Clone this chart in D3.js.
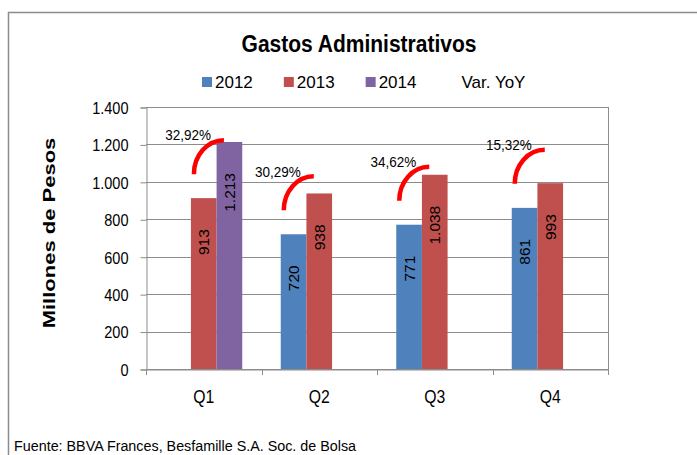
<!DOCTYPE html>
<html>
<head>
<meta charset="utf-8">
<script src="https://cdn.jsdelivr.net/npm/d3@7"></script>
<style>
  body { margin: 0; background: #fff; }
  text { font-family: "Liberation Sans", Arial, sans-serif; fill: #000; }
</style>
</head>
<body>
<svg width="697" height="455"></svg>
<script>
// data
const quarters = ['Q1', 'Q2', 'Q3', 'Q4'];
const years = ['2012', '2013', '2014'];
const v2012 = [null, 720, 771, 861];
const v2013 = [913, 938, 1038, 993];
const v2014 = [1213, null, null, null];
const yoyLabels = ['32,92%', '30,29%', '34,62%', '15,32%'];
const yTicks = [0, 200, 400, 600, 800, 1000, 1200, 1400];
const legendLabels = ['2012', '2013', '2014', 'Var. YoY'];
const colors = ['#4F81BD', '#C0504D', '#8064A2'];

const rows = quarters.map((q, i) => ({q, vals: [v2012[i], v2013[i], v2014[i]]}));
const fmt = v => d3.format(',')(v).replace(/,/g, '.');

const svg = d3.select('svg');
const plotL = 146, plotR = 608, plotT = 107, plotB = 369;

// outer chart frame (runs off the picture on the right and bottom)
svg.append('rect')
    .attr('x', 8.5).attr('y', 12.5)
    .attr('width', 720).attr('height', 470)
    .attr('fill', 'none').attr('stroke', '#8c8c8c').attr('stroke-width', 1.5);

const x = d3.scaleBand().domain(quarters).range([plotL, plotR]);
const barW = x.bandwidth() / 4.5; // excel gap width 150%
const x1 = d3.scaleBand().domain(years).range([barW * 0.75, barW * 3.75]);
const y = d3.scaleLinear().domain([0, 1400]).range([plotB, plotT]);

// gridlines
svg.append('g')
    .selectAll('line')
    .data(yTicks)
    .enter()
    .append('line')
    .attr('x1', plotL).attr('x2', plotR)
    .attr('y1', d => Math.round(y(d)) + 0.5).attr('y2', d => Math.round(y(d)) + 0.5)
    .attr('stroke', '#8c8c8c');

// plot right edge
svg.append('line')
    .attr('x1', plotR + 0.5).attr('x2', plotR + 0.5)
    .attr('y1', plotT).attr('y2', plotB + 6)
    .attr('stroke', '#8c8c8c');

// y axis
const yAxis = svg.append('g')
    .attr('transform', `translate(${plotL + 0.5},0.5)`)
    .call(d3.axisLeft(y).tickValues(yTicks).tickFormat(fmt).tickSizeOuter(0).tickSize(6).tickPadding(0));
yAxis.select('.domain').attr('stroke', '#8c8c8c');
yAxis.selectAll('.tick line').attr('stroke', '#8c8c8c');
yAxis.selectAll('.tick text')
    .attr('font-size', 16.5)
    .attr('font-family', '"Liberation Sans", Arial, sans-serif')
    .attr('fill', '#000')
    .attr('transform', 'scale(0.88,1)')
    .attr('x', -18 / 0.88)
    .attr('dy', '0.35em');

// x axis
const xAxis = svg.append('g')
    .attr('transform', `translate(0,${plotB + 0.5})`)
    .call(d3.axisBottom(x).tickSize(0).tickPadding(0).tickSizeOuter(0));
xAxis.select('.domain').attr('stroke', '#8c8c8c');
xAxis.selectAll('.tick text')
    .attr('font-size', 17.5)
    .attr('font-family', '"Liberation Sans", Arial, sans-serif')
    .attr('fill', '#000')
    .attr('transform', 'scale(0.9,1)')
    .attr('y', 21);

// category separators
svg.append('g')
    .selectAll('line')
    .data(d3.range(quarters.length + 1))
    .enter()
    .append('line')
    .attr('x1', i => Math.round(plotL + i * x.step()) + 0.5)
    .attr('x2', i => Math.round(plotL + i * x.step()) + 0.5)
    .attr('y1', plotB).attr('y2', plotB + 6)
    .attr('stroke', '#8c8c8c');

// bars
const groups = svg.selectAll('.grp')
    .data(rows)
    .enter()
    .append('g')
    .classed('grp', true)
    .attr('transform', d => `translate(${x(d.q)},0)`);

const cells = groups.selectAll('.bar')
    .data(d => d.vals.map((v, i) => ({year: years[i], v, i})).filter(e => e.v != null))
    .enter();

cells.append('rect')
    .classed('bar', true)
    .attr('x', d => x1(d.year))
    .attr('width', x1.bandwidth())
    .attr('y', d => y(d.v))
    .attr('height', d => plotB - y(d.v))
    .attr('fill', d => colors[d.i]);

cells.append('text')
    .attr('transform', d => `translate(${x1(d.year) + x1.bandwidth() / 2},${y(d.v) + 31}) rotate(-90)`)
    .attr('text-anchor', 'end')
    .attr('dominant-baseline', 'central')
    .attr('font-size', 15.5)
    .text(d => fmt(d.v));

// YoY arcs: drawn from above the earlier bar, curving over to the later one
rows.forEach((r, qi) => {
    const idx = r.vals.map((v, i) => v != null ? i : -1).filter(i => i >= 0);
    const a = idx[idx.length - 2];
    const x0 = x(r.q) + x1(years[a]) + 3, y0 = y(r.vals[a]) - 24;
    const rx = 30, ry = 34;
    svg.append('path')
        .attr('d', `M${x0},${y0} A${rx},${ry} 0 0 1 ${x0 + rx},${y0 - ry}`)
        .attr('fill', 'none')
        .attr('stroke', '#FF0000')
        .attr('stroke-width', 4.5);
    svg.append('text')
        .attr('transform', `translate(${x0 + 17},${y0 - 39}) scale(0.9,1)`)
        .attr('text-anchor', 'end')
        .attr('dominant-baseline', 'central')
        .attr('font-size', 15)
        .text(yoyLabels[qi]);
});

// title
svg.append('text')
    .attr('transform', 'translate(359,52) scale(0.875,1)')
    .attr('text-anchor', 'middle')
    .attr('font-size', 24)
    .attr('font-weight', 'bold')
    .text('Gastos Administrativos');

// legend
const legend = svg.append('g').attr('transform', 'translate(202,82)');
let lx = 0;
legendLabels.forEach((t, i) => {
    if (i < 3) {
        legend.append('rect')
            .attr('x', lx).attr('y', -5)
            .attr('width', 10).attr('height', 10)
            .attr('fill', colors[i]);
        lx += 13;
    } else {
        lx += 14;
    }
    const tx = legend.append('text')
        .attr('x', lx).attr('y', 0)
        .attr('dominant-baseline', 'central')
        .attr('font-size', 17)
        .text(t);
    lx += tx.node().getComputedTextLength() + 31;
});

// y axis title
svg.append('text')
    .attr('transform', 'translate(49,233) rotate(-90) scale(1,0.75)')
    .attr('text-anchor', 'middle')
    .attr('dominant-baseline', 'central')
    .attr('font-size', 22)
    .attr('font-weight', 'bold')
    .text('Millones de Pesos');

// source note
svg.append('text')
    .attr('transform', 'translate(14,446) scale(0.956,1)')
    .attr('dominant-baseline', 'central')
    .attr('font-size', 15)
    .text('Fuente: BBVA Frances, Besfamille S.A. Soc. de Bolsa');
</script>
</body>
</html>
